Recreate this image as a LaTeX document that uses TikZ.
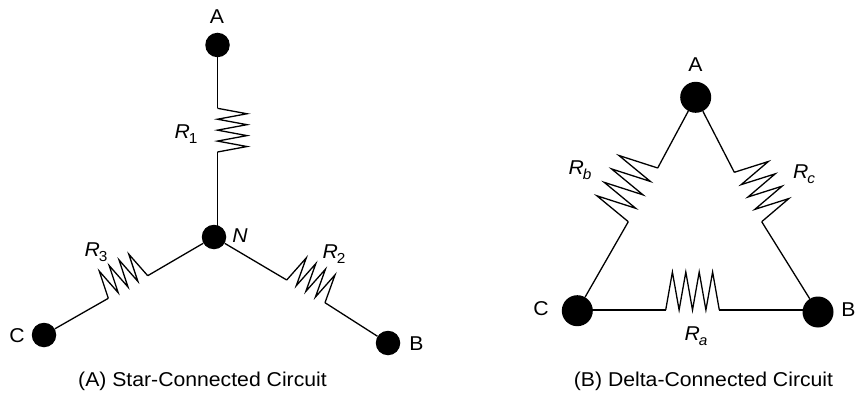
\documentclass[tikz,border=0pt]{standalone}
\usepackage{fontspec}
\setmainfont[FakeStretch=1.06]{Liberation Sans}
\usetikzlibrary{calc}

\newcommand{\Rsub}[1]{\textit{R}\kern-1pt\raisebox{-.28em}{\fontsize{14.5}{14.5}\selectfont #1}}
% zigzag between two named coordinates, teeth of height #3
\newcommand{\zigzag}[3]{
    \draw[wire] (#1) \foreach \k in {1,3,5,7} {
        -- ($(#1)!\k/8!(#2)!#3!90:(#2)$) -- ($(#1)!\k/8+1/8!(#2)$)
    };
}

\tikzset{
    wire/.style={line width=1.3pt,line join=miter},
    dotsmall/.style={circle,fill=black,inner sep=0pt,minimum size=24.5pt},
    dotbig/.style={circle,fill=black,inner sep=0pt,minimum size=31pt},
    lab/.style={inner sep=0pt,font=\fontsize{20}{24}\selectfont},
}

\begin{document}
\begin{tikzpicture}[x=1pt,y=-1pt]
    \useasboundingbox (0,0) rectangle (856,393);

    % star
    \node[dotsmall] (sA) at (217.5,45) {};
    \node[dotsmall] (sN) at (214,237) {};
    \node[dotsmall] (sB) at (388,343) {};
    \node[dotsmall] (sC) at (44,335) {};
    \coordinate (r1a) at (217.5,108.3);
    \coordinate (r1b) at (217.5,152);
    \coordinate (r2a) at (286.7,280);
    \coordinate (r2b) at (325,302.7);
    \coordinate (r3a) at (147.7,275.7);
    \coordinate (r3b) at (108.3,298.3);
    \draw[wire] (sA) -- (r1a);
    \zigzag{r1a}{r1b}{29.5pt}
    \draw[wire] (r1b) -- (r1b |- sN);
    \draw[wire] (sN) -- (r2a);
    \zigzag{r2a}{r2b}{29pt}
    \draw[wire] (r2b) -- (sB);
    \draw[wire] (sN) -- (r3a);
    \zigzag{r3a}{r3b}{-28pt}
    \draw[wire] (r3b) -- (sC);
    \node[lab] (lsA) at (217,17) {A};
    \node[lab] (lsN) at (240,236) {\textit{N}};
    \node[lab] (lsB) at (416.5,343.5) {B};
    \node[lab] (lsC) at (17,335.5) {C};
    \node[lab] (lr1) at (186,134) {\Rsub{1}};
    \node[lab] (lr2) at (334,254) {\Rsub{2}};
    \node[lab] (lr3) at (96,252) {\Rsub{3}};
    \node[lab] (capA) at (202.5,381) {(A) Star-Connected Circuit};

    % delta
    \node[dotbig] (dA) at (695.7,97.3) {};
    \node[dotbig] (dB) at (818,312) {};
    \node[dotbig] (dC) at (577.3,310.7) {};
    \coordinate (rba) at (657.7,168);
    \coordinate (rbb) at (628.3,221.7);
    \coordinate (rca) at (734.3,172.3);
    \coordinate (rcb) at (761.7,221.7);
    \coordinate (raa) at (665.7,310);
    \coordinate (rab) at (719.3,310);
    \draw[wire] (dA) -- (rba);
    \zigzag{rba}{rbb}{-40pt}
    \draw[wire] (rbb) -- (dC);
    \draw[wire] (dA) -- (rca);
    \zigzag{rca}{rcb}{35pt}
    \draw[wire] (rcb) -- (dB);
    \draw[wire] (raa -| dC) -- (raa);
    \zigzag{raa}{rab}{38pt}
    \draw[wire] (rab) -- (rab -| dB);
    \node[lab] (ldA) at (695.5,65) {A};
    \node[lab] (ldB) at (848.5,310) {B};
    \node[lab] (ldC) at (541,309) {C};
    \node[lab] (lra) at (696,336) {\Rsub{\textit{a}}};
    \node[lab] (lrb) at (580,170) {\Rsub{\textit{b}}};
    \node[lab] (lrc) at (804,174) {\Rsub{\textit{c}}};
    \node[lab] (capB) at (703.5,381) {(B) Delta-Connected Circuit};
\end{tikzpicture}
\end{document}
